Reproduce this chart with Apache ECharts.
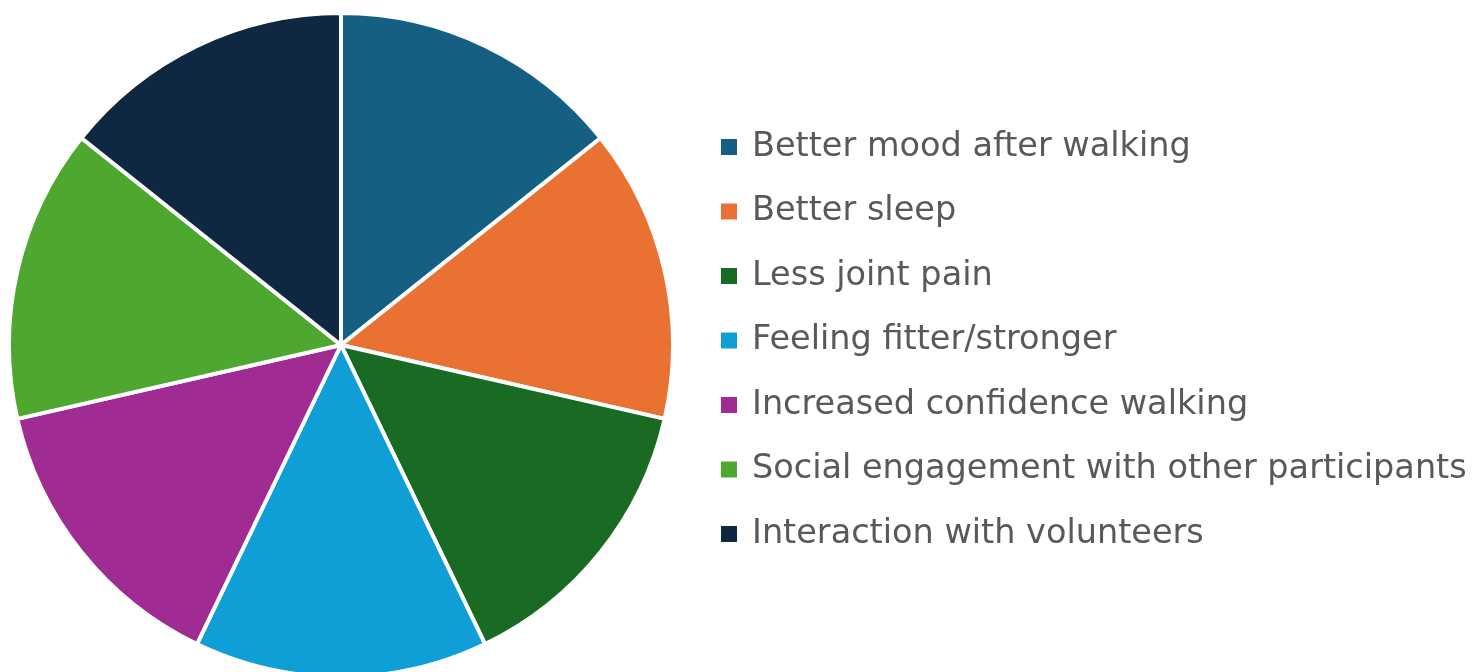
<!DOCTYPE html>
<html><head><meta charset="utf-8">
<script src="https://cdn.jsdelivr.net/npm/echarts@6/dist/echarts.min.js"></script>
<style>html,body{margin:0;padding:0;background:#fff}#c{width:1480px;height:672px}</style>
</head><body><div id="c"></div>
<script>
const categories = ["Better mood after walking","Better sleep","Less joint pain","Feeling fitter/stronger","Increased confidence walking","Social engagement with other participants","Interaction with volunteers"];
const values = [1,1,1,1,1,1,1];
const colors = ["#156082","#E97132","#196B24","#0F9ED5","#A02B93","#4EA72E","#0E2841"];
const chart = echarts.init(document.getElementById('c'), null, {renderer:'canvas'});
chart.setOption({
  animation:false,
  color: colors,
  legend:{
    orient:'vertical', left:714, top:122, itemWidth:18, itemHeight:18, itemGap:24.5,
    icon:'rect',
    textStyle:{fontFamily:'DejaVu Sans', fontSize:33.5, color:'#595959', lineHeight:40, padding:[0,0,0,9]},
    data: categories
  },
  series:[{
    type:'pie', center:[341,345], radius:[0,332], startAngle:90, clockwise:true,
    label:{show:false}, labelLine:{show:false},
    itemStyle:{borderColor:'#fff', borderWidth:4},
    emphasis:{disabled:true},
    data: categories.map((n,i)=>({name:n, value:values[i]}))
  }]
});
</script></body></html>
